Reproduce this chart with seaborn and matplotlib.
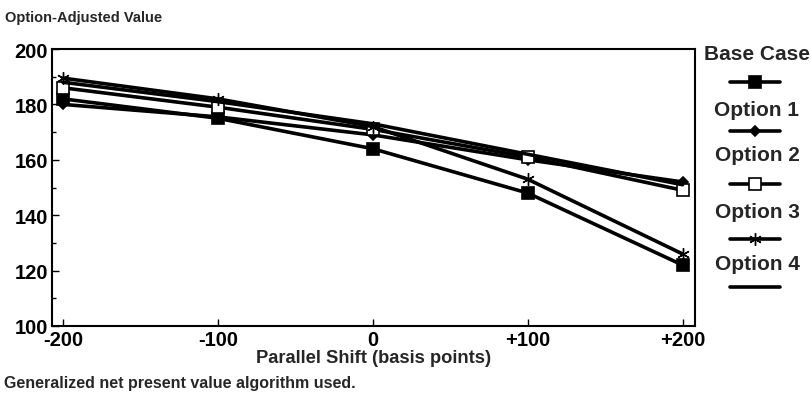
import matplotlib
matplotlib.use("Agg")
import matplotlib.pyplot as plt
from matplotlib.lines import Line2D
from matplotlib.ticker import MultipleLocator
import seaborn as sns
import pandas as pd

# data
shifts = [-200, -100, 0, 100, 200]
shift_labels = ["-200", "-100", "0", "+100", "+200"]
base_case = [182, 175, 164, 148, 122]
option_1 = [180, 175.5, 169, 160, 152]
option_2 = [186, 179, 171, 161, 149]
option_3 = [189.5, 182, 172, 153, 126]
option_4 = [188, 181, 173, 162, 151]

series_names = ["Base Case", "Option 1", "Option 2", "Option 3", "Option 4"]
series_values = [base_case, option_1, option_2, option_3, option_4]

# marker styles per series
styles = {
    "Base Case": dict(marker="s", markersize=8, markerfacecolor="black"),
    "Option 1": dict(marker="D", markersize=5.5, markerfacecolor="black"),
    "Option 2": dict(marker="s", markersize=8, markerfacecolor="white"),
    "Option 3": dict(marker="*", markersize=0.1),
    "Option 4": dict(marker=None),
}

sns.set_style("ticks")
plt.rcParams['font.family'] = ['Liberation Sans', 'DejaVu Sans']
plt.rcParams['font.weight'] = 'bold'

fig = plt.figure(figsize=(8.11, 4.02), dpi=100)
ax = fig.add_axes([52 / 811, 1 - 327 / 402, (695 - 52) / 811, (327 - 50) / 402])

lw = 2.6
for name, vals in zip(series_names, series_values):
    df = pd.DataFrame({"shift": shifts, "value": vals})
    st = styles[name]
    if name == "Option 3":
        sns.lineplot(data=df, x="shift", y="value", ax=ax, color="black", linewidth=lw)
        ax.plot(df["shift"], df["value"], linestyle="none", marker=(6, 2, 0),
                markersize=9, markeredgecolor="black", markeredgewidth=1.0)
    elif st["marker"] is None:
        sns.lineplot(data=df, x="shift", y="value", ax=ax, color="black", linewidth=lw)
    else:
        sns.lineplot(data=df, x="shift", y="value", ax=ax, color="black", linewidth=lw,
                     marker=st["marker"], markersize=st["markersize"],
                     markerfacecolor=st["markerfacecolor"], markeredgecolor="black",
                     markeredgewidth=1.2)

ax.set_xlim(-207, 208)
ax.set_ylim(100, 200)
ax.set_xticks(shifts)
ax.set_xticklabels(shift_labels)
ax.yaxis.set_major_locator(MultipleLocator(20))
ax.yaxis.set_minor_locator(MultipleLocator(10))
ax.tick_params(axis="both", which="both", direction="in", labelsize=14.5, width=1, colors="black")
ax.tick_params(axis="both", which="major", length=5, pad=3)
ax.tick_params(axis="y", which="minor", length=3)
for lbl in ax.get_xticklabels() + ax.get_yticklabels():
    lbl.set_fontweight("bold")
for sp in ax.spines.values():
    sp.set_visible(True)
    sp.set_linewidth(1.5)
    sp.set_color("black")

ax.set_xlabel("Parallel Shift (basis points)", fontsize=13.2, fontweight="bold", labelpad=0)
ax.set_ylabel("")

fig.text(5 / 811, 1 - 18 / 402, "Option-Adjusted Value", fontsize=10.5, fontweight="bold",
         va="center", ha="left")
fig.text(4 / 811, 1 - 384 / 402, "Generalized net present value algorithm used.",
         fontsize=11.5, fontweight="bold", va="center", ha="left")

# legend: label above, sample line below
label_y = [55, 110, 156, 213, 265]
sample_y = [83, 132, 185, 240, 288]
for name, ly, sy in zip(series_names, label_y, sample_y):
    fig.text(757 / 811, 1 - ly / 402, name, fontsize=15, fontweight="bold",
             ha="center", va="center")
    st = styles[name]
    xs = [730 / 811, 755 / 811, 780 / 811]
    ys = [1 - sy / 402] * 3
    if name == "Option 3":
        fig.add_artist(Line2D(xs, ys, color="black", linewidth=lw, marker=(6, 2, 0),
                              markersize=9, markeredgewidth=1.0, markevery=[1]))
    elif st["marker"] is None:
        fig.add_artist(Line2D(xs, ys, color="black", linewidth=lw))
    else:
        fig.add_artist(Line2D(xs, ys, color="black", linewidth=lw, marker=st["marker"],
                              markersize=st["markersize"],
                              markerfacecolor=st["markerfacecolor"],
                              markeredgecolor="black", markeredgewidth=1.2,
                              markevery=[1]))

fig.savefig("out.png", dpi=100)
plt.close(fig)
